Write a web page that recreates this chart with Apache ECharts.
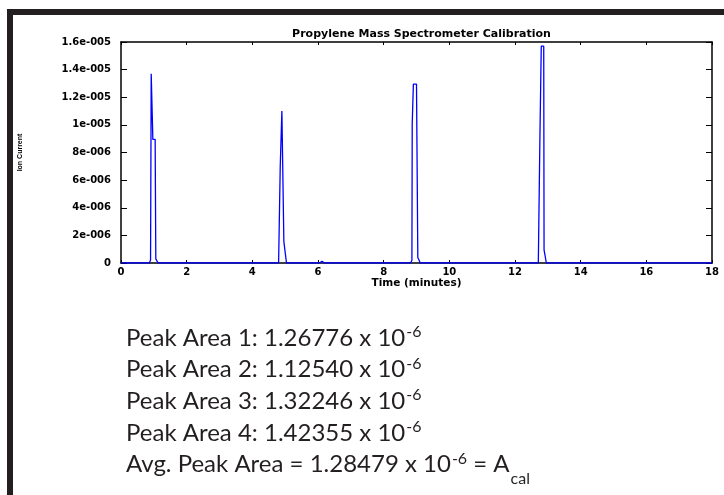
<!DOCTYPE html>
<html>
<head>
<meta charset="utf-8">
<script src="https://cdn.jsdelivr.net/npm/echarts@6/dist/echarts.min.js"></script>
<style>
html,body{margin:0;padding:0;background:#fff;}
#chart{width:724px;height:495px;}
</style>
</head>
<body>
<div id="chart"></div>
<script>
// ---- data (time in minutes, ion current in A) ----
const chartTitle = 'Propylene Mass Spectrometer Calibration';
const xAxisName = 'Time (minutes)';
const yAxisName = 'Ion Current';
const yTickLabels = ['0','2e-006','4e-006','6e-006','8e-006','1e-005','1.2e-005','1.4e-005','1.6e-005'];

const baselineTime = [0, 18];
const baselineIon  = [0, 0];
const peak1Time = [0.86, 0.90, 0.92, 0.965, 0.97, 1.04, 1.06, 1.10, 1.13];
const peak1Ion  = [0, 0.2e-6, 13.7e-6, 13.7e-6, 8.95e-6, 8.95e-6, 0.3e-6, 0.2e-6, 0];
const peak2Time = [4.80, 4.84, 4.85, 4.89, 4.90, 4.94, 4.96, 5.02, 5.04];
const peak2Ion  = [0, 0.1e-6, 7.0e-6, 7.0e-6, 11.0e-6, 11.0e-6, 1.55e-6, 1.55e-6, 0];
const bumpTime  = [6.05, 6.12, 6.20];
const bumpIon   = [0, 0.12e-6, 0];
const peak3Time = [8.82, 8.86, 8.87, 8.895, 8.905, 9.00, 9.04, 9.08, 9.11];
const peak3Ion  = [0, 0.2e-6, 10.1e-6, 10.2e-6, 12.95e-6, 12.95e-6, 0.4e-6, 0.2e-6, 0];
const peak4Time = [12.71, 12.75, 12.76, 12.79, 12.80, 12.875, 12.885, 12.935, 12.955];
const peak4Ion  = [0, 0.1e-6, 9.3e-6, 9.3e-6, 15.7e-6, 15.7e-6, 0.95e-6, 0.95e-6, 0];

const peakAreas = ['1.26776', '1.12540', '1.32246', '1.42355'];
const avgPeakArea = '1.28479';

// ---- build series data ----
const pairs = [];
function addPts(ts, vs){ ts.forEach((t,i)=>pairs.push([t, vs[i]])); }
addPts(baselineTime, baselineIon);
addPts(peak1Time, peak1Ion);
addPts(peak2Time, peak2Ion);
addPts(bumpTime, bumpIon);
addPts(peak3Time, peak3Ion);
addPts(peak4Time, peak4Ion);
pairs.sort((a,b)=>a[0]-b[0]);

// ---- text block layout ----
const FONT_MAIN = 'Lato';
const mainSize = 24, supSize = 16;
const textColor = '#231f20';
const mctx = document.createElement('canvas').getContext('2d');
function tw(text, size){ mctx.font = size + 'px ' + FONT_MAIN; return mctx.measureText(text).width; }

const textEls = [];
const left0 = 126;
const baselines = [345, 376.7, 408.3, 440, 471.7];
function txt(str, x, baseY, size){
  textEls.push({
    type:'text', x:x, y: baseY - 0.3*size,
    style:{text:str, font: size + 'px ' + FONT_MAIN, fill:textColor, align:'left', verticalAlign:'middle'}
  });
  return x + tw(str, size);
}
peakAreas.forEach((a,i)=>{
  let x = txt('Peak Area ' + (i+1) + ': ' + a + ' x 10', left0, baselines[i], mainSize);
  txt('-6', x + 1, baselines[i] - 8.5, supSize);
});
{
  const b = baselines[4];
  let x = txt('Avg. Peak Area = ' + avgPeakArea + ' x 10', left0, b, mainSize);
  x = txt('-6', x + 1, b - 8.5, supSize);
  x = txt(' = A', x, b, mainSize);
  txt('cal', x + 1, b + 11.5, supSize);
}

const chart = echarts.init(document.getElementById('chart'), null, {renderer:'canvas'});
const tickFont = {fontFamily:'DejaVu Sans', fontWeight:'bold', fontSize:10, color:'#000'};
chart.setOption({
  animation:false,
  backgroundColor:'#fff',
  title:{
    text: chartTitle, left: 416.5, top: 24, textAlign:'center',
    textStyle:{fontFamily:'DejaVu Sans', fontWeight:'bold', fontSize:11, color:'#000'}
  },
  grid:{left:121, right:12, top:42, bottom:232, containLabel:false},
  xAxis:[{
    type:'value', min:0, max:18, interval:2, position:'bottom',
    name: xAxisName, nameLocation:'middle', nameGap:14,
    nameTextStyle:{fontFamily:'DejaVu Sans', fontWeight:'bold', fontSize:10.5, color:'#000'},
    axisLine:{show:true, onZero:false, lineStyle:{color:'#000', width:1.5}},
    axisTick:{show:true, inside:true, length:3, lineStyle:{color:'#000', width:1}},
    axisLabel:Object.assign({margin:4}, tickFont),
    splitLine:{show:false}
  },{
    type:'value', min:0, max:18, interval:2, position:'top',
    axisLine:{show:true, onZero:false, lineStyle:{color:'#000', width:1.5}},
    axisTick:{show:true, inside:true, length:3, lineStyle:{color:'#000', width:1}},
    axisLabel:{show:false}, splitLine:{show:false}
  }],
  yAxis:[{
    type:'value', min:0, max:16e-6, interval:2e-6, position:'left',
    name: yAxisName, nameLocation:'middle', nameGap:97, nameRotate:90,
    nameTextStyle:{fontFamily:'Liberation Sans', fontWeight:'bold', fontSize:7, color:'#000'},
    axisLine:{show:true, onZero:false, lineStyle:{color:'#000', width:1.5}},
    axisTick:{show:true, inside:true, length:6, lineStyle:{color:'#000', width:1}},
    axisLabel:Object.assign({margin:10, formatter:(v)=>yTickLabels[Math.round(v/2e-6)]}, tickFont),
    splitLine:{show:false}
  },{
    type:'value', min:0, max:16e-6, interval:2e-6, position:'right',
    axisLine:{show:true, onZero:false, lineStyle:{color:'#000', width:1.5}},
    axisTick:{show:true, inside:true, length:6, lineStyle:{color:'#000', width:1}},
    axisLabel:{show:false}, splitLine:{show:false}
  }],
  series:[{
    type:'line', xAxisIndex:0, yAxisIndex:0, data:pairs,
    showSymbol:false, symbol:'none',
    lineStyle:{color:'#0000ff', width:1.3}
  }],
  graphic:[
    {type:'rect', shape:{x:7, y:9, width:717, height:6}, style:{fill:'#231f20'}},
    {type:'rect', shape:{x:7, y:9, width:6, height:486}, style:{fill:'#231f20'}}
  ].concat(textEls)
});
</script>
</body>
</html>
